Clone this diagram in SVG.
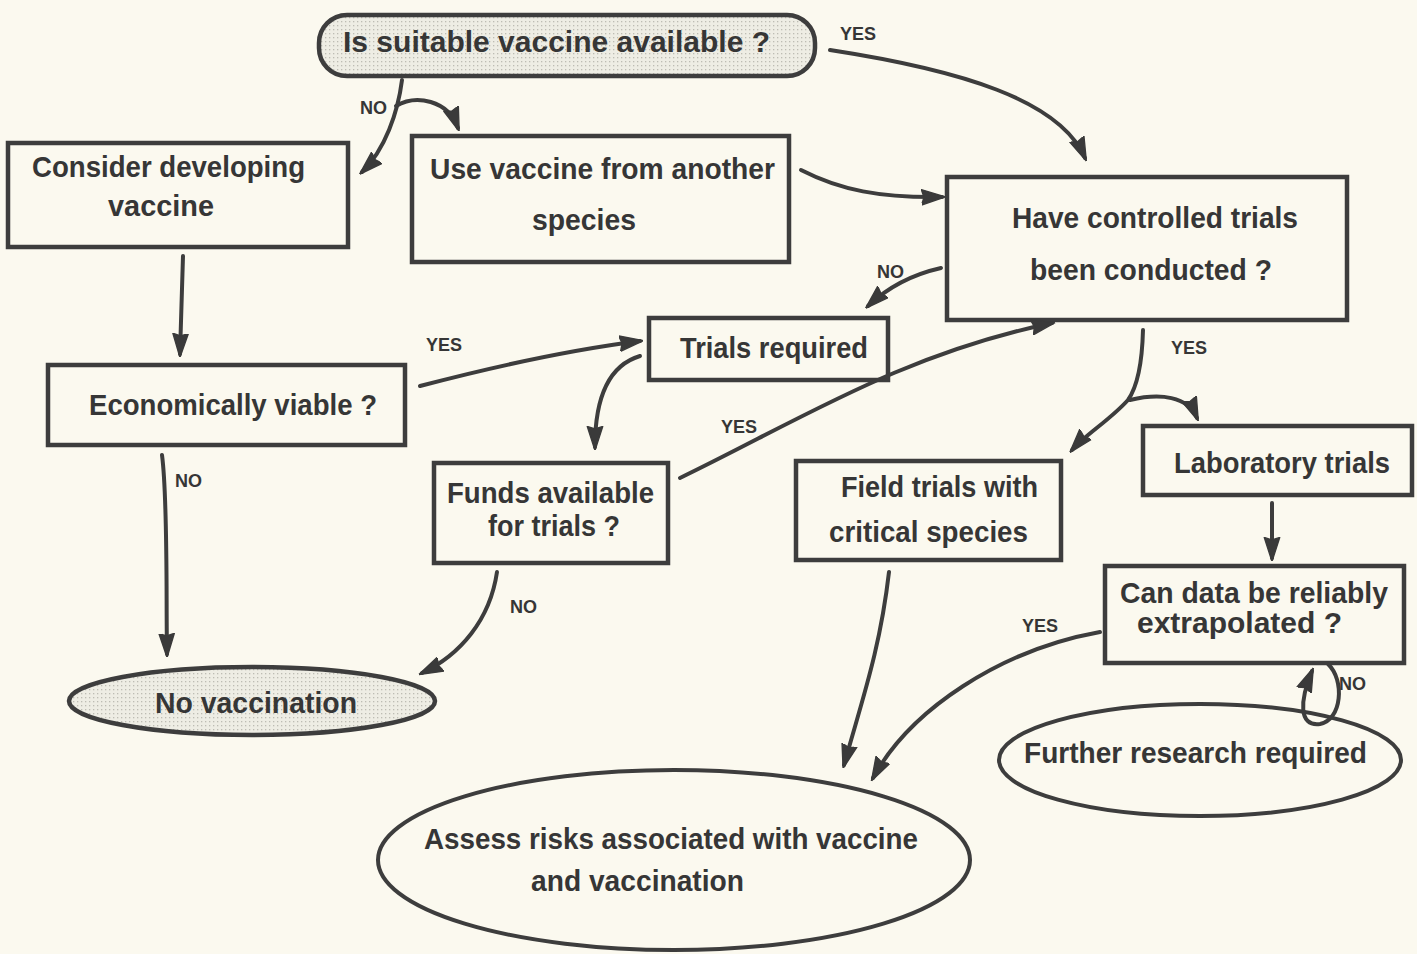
<svg xmlns="http://www.w3.org/2000/svg" width="1417" height="954" viewBox="0 0 1417 954">
  <defs>
    <pattern id="stipple" width="4" height="4" patternUnits="userSpaceOnUse">
      <rect width="4" height="4" fill="#eeede4"/>
      <rect x="1" y="1" width="1.3" height="1.3" fill="#bdbcb3"/>
    </pattern>
    <marker id="head" viewBox="0 0 14 10" refX="12" refY="5" markerWidth="6" markerHeight="4.3" orient="auto" markerUnits="strokeWidth">
      <path d="M0,0.5 L14,5 L0,9.5 L1.5,5 Z" fill="#3a3a3a" stroke="#3a3a3a" stroke-width="0.8" stroke-linejoin="round"/>
    </marker>
    <style>
      .box { fill: none; stroke: #3d3d3d; stroke-width: 4.5; }
      .shaded { fill: url(#stipple); stroke: #3d3d3d; stroke-width: 4.5; }
      .oval { fill: none; stroke: #3d3d3d; stroke-width: 4; }
      .t { font-family: "Liberation Sans", Arial, sans-serif; font-weight: bold; font-size: 30px; fill: #363636; }
      .lbl { font-family: "Liberation Sans", Arial, sans-serif; font-weight: bold; font-size: 18px; fill: #363636; }
      .c { fill: none; stroke: #3d3d3d; stroke-width: 4; stroke-linecap: round; }
      .arr { marker-end: url(#head); }
    </style>
  </defs>

  <rect width="1417" height="954" fill="#fbf9ef"/>

  <g id="q-vaccine">
    <rect class="shaded" x="319" y="15" width="496" height="61" rx="28"/>
    <text class="t" x="343" y="52" textLength="427" lengthAdjust="spacingAndGlyphs">Is  suitable  vaccine  available ?</text>
  </g>

  <g id="consider">
    <rect class="box" x="8" y="143" width="340" height="104"/>
    <text class="t" x="32" y="177" textLength="273" lengthAdjust="spacingAndGlyphs">Consider developing</text>
    <text class="t" x="108" y="216" textLength="106" lengthAdjust="spacingAndGlyphs">vaccine</text>
  </g>

  <g id="other-species">
    <rect class="box" x="412" y="136" width="377" height="126"/>
    <text class="t" x="430" y="179" textLength="345" lengthAdjust="spacingAndGlyphs">Use vaccine from another</text>
    <text class="t" x="532" y="230" textLength="104" lengthAdjust="spacingAndGlyphs">species</text>
  </g>

  <g id="q-trials">
    <rect class="box" x="947" y="177" width="400" height="143"/>
    <text class="t" x="1012" y="228" textLength="286" lengthAdjust="spacingAndGlyphs">Have controlled trials</text>
    <text class="t" x="1030" y="280" textLength="242" lengthAdjust="spacingAndGlyphs">been conducted ?</text>
  </g>

  <g id="trials-required">
    <rect class="box" x="649" y="318" width="239" height="62"/>
    <text class="t" x="680" y="358" textLength="188" lengthAdjust="spacingAndGlyphs">Trials required</text>
  </g>

  <g id="q-economic">
    <rect class="box" x="48" y="365" width="357" height="80"/>
    <text class="t" x="89" y="415" textLength="288" lengthAdjust="spacingAndGlyphs">Economically viable ?</text>
  </g>

  <g id="q-funds">
    <rect class="box" x="434" y="463" width="234" height="100"/>
    <text class="t" x="447" y="503" textLength="207" lengthAdjust="spacingAndGlyphs" font-size="28">Funds available</text>
    <text class="t" x="488" y="536" textLength="132" lengthAdjust="spacingAndGlyphs" font-size="28">for trials ?</text>
  </g>

  <g id="field-trials">
    <rect class="box" x="796" y="461" width="265" height="99"/>
    <text class="t" x="841" y="497" textLength="197" lengthAdjust="spacingAndGlyphs">Field trials with</text>
    <text class="t" x="829" y="542" textLength="199" lengthAdjust="spacingAndGlyphs">critical species</text>
  </g>

  <g id="lab-trials">
    <rect class="box" x="1143" y="426" width="269" height="69"/>
    <text class="t" x="1174" y="473" textLength="216" lengthAdjust="spacingAndGlyphs">Laboratory trials</text>
  </g>

  <g id="q-extrapolate">
    <rect class="box" x="1105" y="566" width="299" height="97"/>
    <text class="t" x="1120" y="603" textLength="268" lengthAdjust="spacingAndGlyphs" font-size="26">Can data be reliably</text>
    <text class="t" x="1137" y="633" textLength="205" lengthAdjust="spacingAndGlyphs" font-size="26">extrapolated ?</text>
  </g>

  <g id="no-vaccination">
    <ellipse class="shaded" cx="252" cy="701" rx="183" ry="34"/>
    <text class="t" x="155" y="713" textLength="202" lengthAdjust="spacingAndGlyphs">No vaccination</text>
  </g>

  <g id="further-research">
    <ellipse class="oval" cx="1200" cy="760" rx="201" ry="56"/>
    <text class="t" x="1024" y="763" textLength="343" lengthAdjust="spacingAndGlyphs">Further research required</text>
  </g>

  <g id="assess-risks">
    <ellipse class="oval" cx="674" cy="860" rx="296" ry="90"/>
    <text class="t" x="424" y="849" textLength="494" lengthAdjust="spacingAndGlyphs">Assess risks associated with vaccine</text>
    <text class="t" x="531" y="891" textLength="213" lengthAdjust="spacingAndGlyphs">and vaccination</text>
  </g>

  <g id="connectors">
    <!-- available: yes -->
    <path class="c arr" d="M830,50 C960,70 1060,100 1085,158"/>
    <!-- available: no, two branches -->
    <path class="c arr" d="M402,80 C398,112 385,150 362,172"/>
    <path class="c arr" d="M396,106 C416,94 448,100 458,128"/>
    <!-- other species to controlled trials -->
    <path class="c arr" d="M801,170 C840,190 880,198 942,197"/>
    <!-- consider to economic -->
    <path class="c arr" d="M183,256 C182,290 181,320 180,354"/>
    <!-- economic yes -->
    <path class="c arr" d="M420,386 C500,365 570,350 640,341"/>
    <!-- controlled trials: no -->
    <path class="c arr" d="M941,268 C910,275 885,290 868,306"/>
    <!-- trials required to funds -->
    <path class="c arr" d="M640,356 C610,365 595,395 595,447"/>
    <!-- funds yes -->
    <path class="c arr" d="M680,478 C800,420 900,355 1052,323"/>
    <!-- economic no -->
    <path class="c arr" d="M162,455 C168,500 166,600 167,654"/>
    <!-- funds no -->
    <path class="c arr" d="M497,572 C490,620 460,655 422,673"/>
    <!-- controlled trials: yes, forked -->
    <path class="c arr" d="M1143,330 C1142,370 1135,390 1128,400 C1110,420 1085,435 1072,450"/>
    <path class="c arr" d="M1130,400 C1160,393 1188,396 1197,418"/>
    <!-- lab to extrapolate -->
    <path class="c arr" d="M1272,503 C1272,520 1272,540 1272,558"/>
    <!-- extrapolate yes -->
    <path class="c arr" d="M1100,632 C1000,650 910,710 873,778"/>
    <!-- field trials to assess -->
    <path class="c arr" d="M889,572 C880,650 862,700 844,765"/>
    <!-- extrapolate no loop -->
    <path class="c arr" d="M1328,664 C1345,680 1342,720 1320,724 C1298,727 1300,700 1312,671"/>
  </g>

  <g id="labels">
    <text class="lbl" x="840" y="40">YES</text>
    <text class="lbl" x="360" y="114">NO</text>
    <text class="lbl" x="877" y="278">NO</text>
    <text class="lbl" x="426" y="351">YES</text>
    <text class="lbl" x="1171" y="354">YES</text>
    <text class="lbl" x="721" y="433">YES</text>
    <text class="lbl" x="175" y="487">NO</text>
    <text class="lbl" x="510" y="613">NO</text>
    <text class="lbl" x="1022" y="632">YES</text>
    <text class="lbl" x="1339" y="690">NO</text>
  </g>
</svg>
